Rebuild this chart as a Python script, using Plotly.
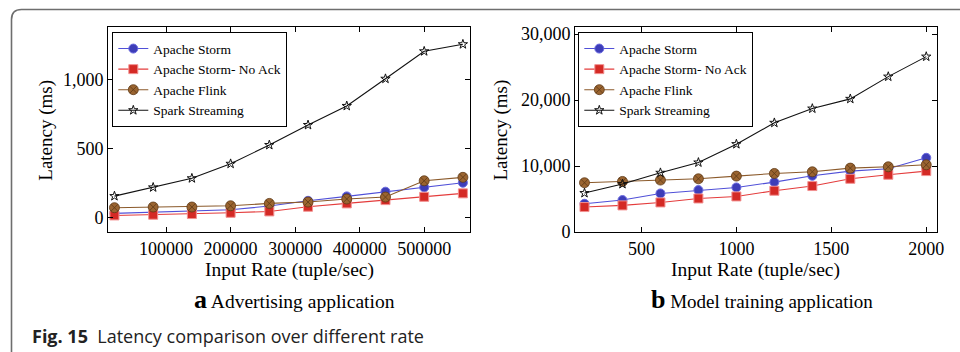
import plotly.graph_objects as go

W, H = 960, 352

# ---- data: (a) Advertising application ----
rate_a = [20000, 80000, 140000, 200000, 260000, 320000, 380000, 440000, 500000, 560000]
storm_a = [29, 36, 43, 55, 82, 120, 152, 186, 217, 251]
noack_a = [14, 19, 24, 33, 43, 77, 101, 125, 149, 174]
flink_a = [70, 75, 75, 84, 101, 111, 133, 147, 265, 290]
spark_a = [154, 217, 283, 388, 524, 669, 807, 1004, 1203, 1254]

# ---- data: (b) Model training application ----
rate_b = [200, 400, 600, 800, 1000, 1200, 1400, 1600, 1800, 2000]
storm_b = [4280, 4840, 5840, 6350, 6750, 7560, 8520, 9230, 9580, 11240]
noack_b = [3780, 4030, 4480, 5080, 5390, 6250, 6960, 8060, 8670, 9230]
flink_b = [7460, 7660, 7870, 8060, 8470, 8870, 9120, 9680, 9880, 10180]
spark_b = [5900, 7260, 8970, 10530, 13310, 16540, 18700, 20170, 23540, 26570]

names = ["Apache Storm", "Apache Storm- No Ack", "Apache Flink", "Spark Streaming"]
xticks_a = [100000, 200000, 300000, 400000, 500000]
yticks_a = [0, 500, 1000]
xticks_b = [500, 1000, 1500, 2000]
yticks_b = [0, 10000, 20000, 30000]

SERIF = "Liberation Serif"


def px(x):
    return x / W


def py(y):
    return 1 - y / H


styles = [
    dict(line=dict(color="#5050d8", width=1.1),
         marker=dict(symbol="circle", size=9, color="#3d3db8", line=dict(color="#6a6ae0", width=1))),
    dict(line=dict(color="#e43c3c", width=1.1),
         marker=dict(symbol="square", size=9, color="#d42a25", line=dict(color="#f29090", width=1))),
    dict(line=dict(color="#8b5a2b", width=1.1),
         marker=dict(symbol="circle-x", size=10, color="#9a6430", line=dict(color="#5e3a16", width=0.8))),
    dict(line=dict(color="#111111", width=1.1),
         marker=dict(symbol="star-open", size=7, color="#111111", line=dict(color="#111111", width=1))),
]

fig = go.Figure()
for xs, series, xa, ya, lg in [
    (rate_a, [storm_a, noack_a, flink_a, spark_a], "x", "y", "legend"),
    (rate_b, [storm_b, noack_b, flink_b, spark_b], "x2", "y2", "legend2"),
]:
    for name, ys, st in zip(names, series, styles):
        fig.add_trace(go.Scatter(x=xs, y=ys, name=name, mode="lines+markers",
                                 xaxis=xa, yaxis=ya, legend=lg,
                                 line=st["line"], marker=st["marker"]))

axis_common = dict(showline=True, linecolor="black", linewidth=1, mirror="allticks",
                   ticks="inside", ticklen=5, tickwidth=1, tickcolor="black",
                   showgrid=False, zeroline=False,
                   tickfont=dict(family=SERIF, size=18, color="black"))

legend_common = dict(xanchor="left", yanchor="top", bgcolor="white",
                     bordercolor="black", borderwidth=1,
                     font=dict(family=SERIF, size=13.5, color="black"),
                     tracegroupgap=0, itemwidth=30)

fig.update_layout(
    width=W, height=H, margin=dict(l=0, r=0, t=0, b=0, autoexpand=False),
    paper_bgcolor="white", plot_bgcolor="white",
    xaxis=dict(domain=[px(108), px(470)], range=[10000, 571000], tickvals=xticks_a,
               tickformat="d", anchor="y", **axis_common),
    yaxis=dict(domain=[py(232), py(27)], range=[-106, 1379], tickvals=yticks_a,
               tickformat=",d", anchor="x", **axis_common),
    xaxis2=dict(domain=[px(575), px(936.7)], range=[150, 2055], tickvals=xticks_b,
                tickformat="d", anchor="y2", **axis_common),
    yaxis2=dict(domain=[py(232), py(27)], range=[0, 31060], tickvals=yticks_b,
                tickformat=",d", anchor="x2", **axis_common),
    legend=dict(x=px(112.3), y=py(32.3), **legend_common),
    legend2=dict(x=px(578.3), y=py(32.3), **legend_common),
    showlegend=True,
)

annos = [
    dict(text="Latency (ms)", x=45.7, y=130, textangle=-90, size=19),
    dict(text="Latency (ms)", x=500.5, y=130, textangle=-90, size=19),
    dict(text="Input Rate (tuple/sec)", x=289, y=270, textangle=0, size=19.5),
    dict(text="Input Rate (tuple/sec)", x=755.5, y=270, textangle=0, size=19.5),
    dict(text="<span style='font-size:26px'><b>a</b></span> Advertising application",
         x=294, y=299, textangle=0, size=19.5),
    dict(text="<span style='font-size:26px'><b>b</b></span> Model training application",
         x=762, y=299, textangle=0, size=19),
]
for a in annos:
    fig.add_annotation(text=a["text"], x=px(a["x"]), y=py(a["y"]), xref="paper", yref="paper",
                       xanchor="center", yanchor="middle",
                       showarrow=False, textangle=a["textangle"],
                       font=dict(family=SERIF, size=a["size"], color="black"))

fig.add_annotation(text="<b>Fig. 15</b>  Latency comparison over different rate",
                   x=px(30), y=py(335.5), xref="paper", yref="paper",
                   xanchor="left", yanchor="middle",
                   showarrow=False, font=dict(family="Open Sans", size=18, color="#222222"))

# outer rounded frame of the figure panel
r_x, r_y = 10 / W, 10 / H
x0, y0 = px(11.5), py(9.5)
fig.add_shape(type="path", xref="paper", yref="paper",
              path=f"M {x0},-0.05 L {x0},{y0 - r_y} Q {x0},{y0} {x0 + r_x},{y0} L 1.05,{y0}",
              line=dict(color="#6e6e6e", width=1.6))

fig.write_html("out.html")
